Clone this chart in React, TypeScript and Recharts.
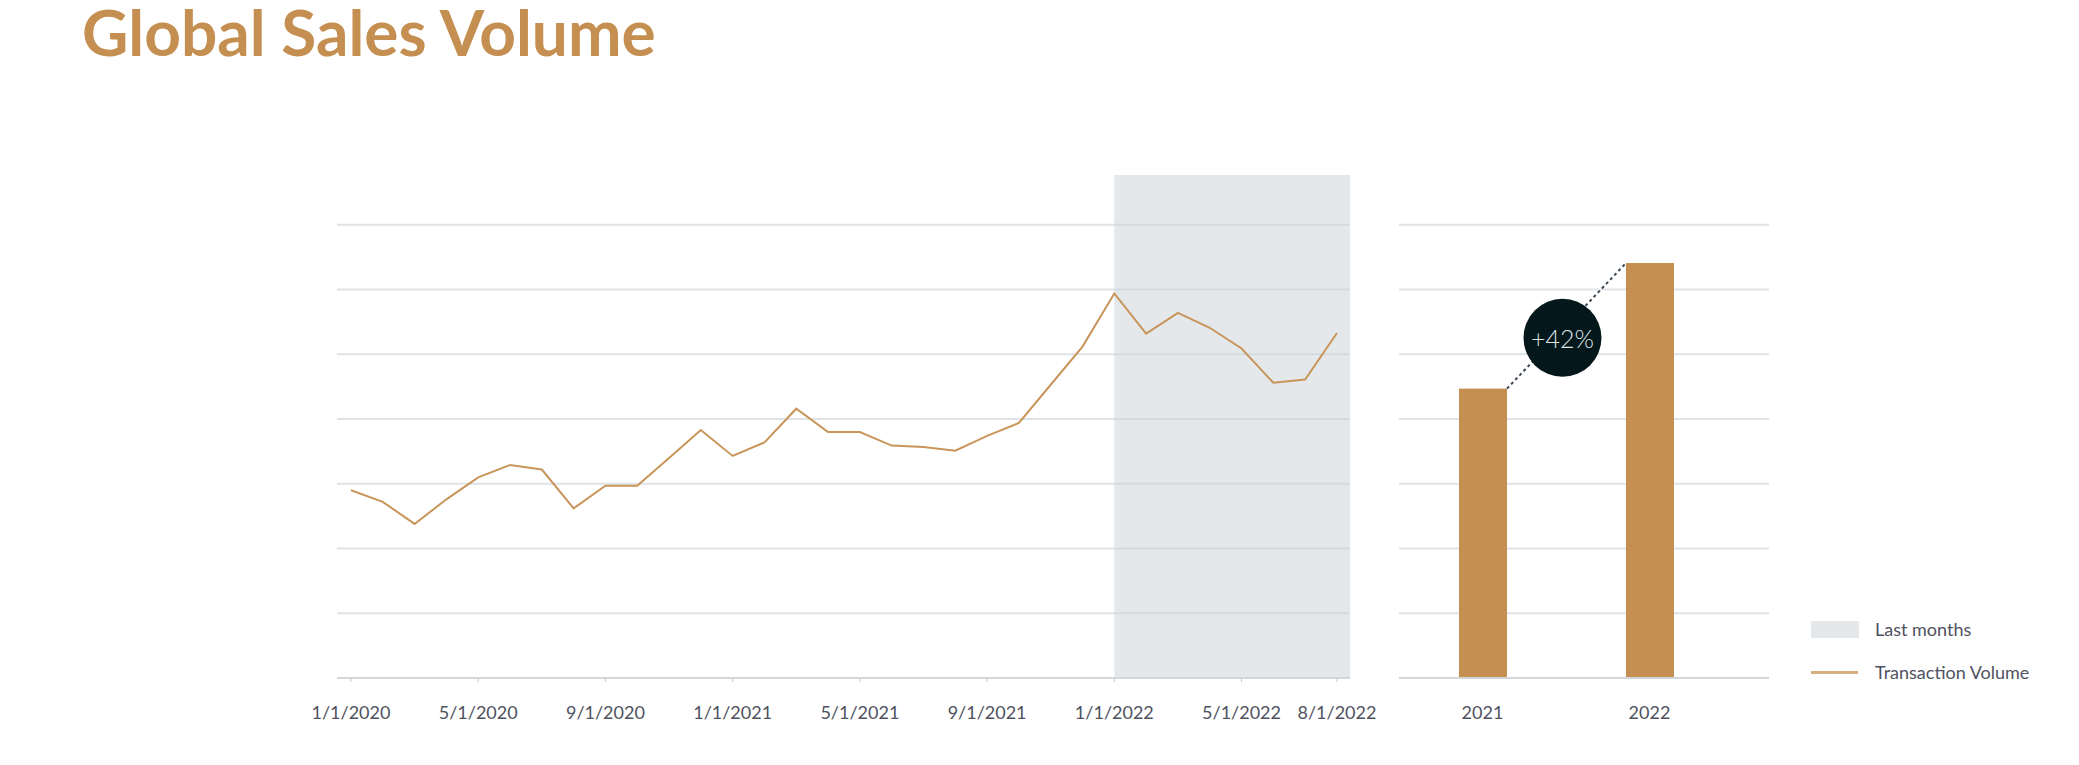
import { useRef } from "react";
import {
  LineChart,
  Line,
  BarChart,
  Bar,
  XAxis,
  YAxis,
  CartesianGrid,
  ReferenceArea,
} from "recharts";

// monthly transaction volume (y axis is not labelled in the original)
const monthLabels = [
  "1/1/2020", "2/1/2020", "3/1/2020", "4/1/2020", "5/1/2020", "6/1/2020",
  "7/1/2020", "8/1/2020", "9/1/2020", "10/1/2020", "11/1/2020", "12/1/2020",
  "1/1/2021", "2/1/2021", "3/1/2021", "4/1/2021", "5/1/2021", "6/1/2021",
  "7/1/2021", "8/1/2021", "9/1/2021", "10/1/2021", "11/1/2021", "12/1/2021",
  "1/1/2022", "2/1/2022", "3/1/2022", "4/1/2022", "5/1/2022", "6/1/2022",
  "7/1/2022", "8/1/2022",
];
const transactionVolume = [
  29.0, 27.2, 23.8, 27.6, 31.0, 32.9, 32.2, 26.2, 29.7, 29.7, 34.0, 38.3,
  34.3, 36.4, 41.6, 38.0, 38.0, 35.9, 35.7, 35.1, 37.4, 39.4, 45.3, 51.2,
  59.4, 53.2, 56.4, 54.1, 50.9, 45.6, 46.1, 53.3,
];
const tickMonths = [
  "1/1/2020", "5/1/2020", "9/1/2020", "1/1/2021", "5/1/2021",
  "9/1/2021", "1/1/2022", "5/1/2022", "8/1/2022",
];
const shadeFrom = "1/1/2022";

// yearly comparison
const years = ["2021", "2022"];
const yearVolume = [44.7, 64.1];
const growthLabel = "+42%";

const valueTicks = [0, 10, 20, 30, 40, 50, 60, 70];
const valueMax = 77.7;

const GOLD = "#C48F50";
const LINE_GOLD = "#C8955A";
const GRID = "#dfe2e6";
const AXIS = "#d2d7dc";
const TEXT = "#4f5260";
const FONT = "Lato, 'Open Sans', sans-serif";

const lineData = monthLabels.map((m, i) => ({ i, month: m, v: transactionVolume[i] }));
const barData = years.map((y, i) => ({ year: y, v: yearVolume[i] }));

const xMin = -0.44;
const xMax = monthLabels.length - 1 + 0.41;

const tickStyle = { fontFamily: FONT, fontSize: 18, fill: TEXT };

// side room so the outer tick labels are not clipped
const SIDE = 50;

const MonthlyChart = () => (
  <LineChart
    width={1013 + SIDE * 2}
    height={563}
    data={lineData}
    margin={{ top: 0, right: SIDE, bottom: 0, left: SIDE }}
  >
    <ReferenceArea
      x1={monthLabels.indexOf(shadeFrom)}
      x2={xMax}
      fill="#c9d1d7"
      fillOpacity={0.5}
      stroke="none"
    />
    <CartesianGrid
      vertical={false}
      horizontalValues={valueTicks}
      stroke={GRID}
      strokeWidth={2}
    />
    <XAxis
      dataKey="i"
      type="number"
      domain={[xMin, xMax]}
      ticks={tickMonths.map((m) => monthLabels.indexOf(m))}
      tickFormatter={(i: number) => monthLabels[i]}
      height={60}
      tickSize={4}
      tickMargin={24}
      tick={tickStyle}
      tickLine={{ stroke: "#c4c9ce" }}
      axisLine={{ stroke: AXIS, strokeWidth: 2 }}
      interval={0}
    />
    <YAxis hide domain={[0, valueMax]} ticks={valueTicks} />
    <Line
      type="linear"
      dataKey="v"
      stroke={LINE_GOLD}
      strokeWidth={2}
      dot={false}
      isAnimationActive={false}
    />
  </LineChart>
);

const YearlyChart = () => {
  const tops = useRef<{ x: number; y: number; w: number }[]>([]);

  const renderBar = (p: any) => {
    const { x, y, width, height, index } = p;
    tops.current[index] = { x, y, w: width };
    const prev = tops.current[index - 1];
    const rect = <rect x={x} y={y} width={width} height={height} fill={GOLD} />;
    if (!prev) return rect;
    const x0 = prev.x + prev.w;
    const y0 = prev.y;
    const cx = (x0 + x) / 2 - 4;
    const cy = (y0 + y) / 2 + 12;
    return (
      <g>
        {rect}
        <line
          x1={x0}
          y1={y0}
          x2={x}
          y2={y}
          stroke="#3b4550"
          strokeWidth={2}
          strokeDasharray="3 3"
        />
        <circle cx={cx} cy={cy} r={39} fill="#04181c" />
        <text
          x={cx}
          y={cy}
          textAnchor="middle"
          dominantBaseline="central"
          fill="#dfe3e6"
          style={{ fontFamily: FONT, fontSize: 25, fontWeight: 300 }}
        >
          {growthLabel}
        </text>
      </g>
    );
  };

  return (
    <BarChart
      width={370}
      height={563}
      data={barData}
      margin={{ top: 0, right: 0, bottom: 0, left: 0 }}
    >
      <CartesianGrid
        vertical={false}
        horizontalValues={valueTicks}
        stroke={GRID}
        strokeWidth={2}
      />
      <XAxis
        dataKey="year"
        padding={{ left: 0, right: 36 }}
        height={60}
        tickLine={false}
        tickSize={4}
        tickMargin={24}
        tick={tickStyle}
        axisLine={{ stroke: AXIS, strokeWidth: 2 }}
      />
      <YAxis hide domain={[0, valueMax]} ticks={valueTicks} />
      <Bar dataKey="v" barSize={48} shape={renderBar} isAnimationActive={false} />
    </BarChart>
  );
};

const legendText = {
  position: "absolute" as const,
  left: 1875,
  fontFamily: FONT,
  fontSize: 18,
  color: TEXT,
  lineHeight: "20px",
};

export default function App() {
  return (
    <div
      style={{
        position: "absolute",
        left: 0,
        top: 0,
        width: 2079,
        height: 765,
        background: "#fff",
        overflow: "hidden",
      }}
    >
      <div
        style={{
          position: "absolute",
          left: 82,
          top: 0,
          fontFamily: FONT,
          fontWeight: 700,
          fontSize: 64,
          lineHeight: 1,
          color: GOLD,
          whiteSpace: "nowrap",
        }}
      >
        Global Sales Volume
      </div>

      <div style={{ position: "absolute", left: 337 - SIDE, top: 175 }}>
        <MonthlyChart />
      </div>
      <div style={{ position: "absolute", left: 1399, top: 175 }}>
        <YearlyChart />
      </div>

      <div
        style={{
          position: "absolute",
          left: 1811,
          top: 621,
          width: 48,
          height: 17,
          background: "#e4e8eb",
        }}
      />
      <div style={{ ...legendText, top: 619 }}>Last months</div>
      <div
        style={{
          position: "absolute",
          left: 1811,
          top: 671,
          width: 47,
          height: 3,
          background: "#d6ae80",
        }}
      />
      <div style={{ ...legendText, top: 662 }}>Transaction Volume</div>
    </div>
  );
}
